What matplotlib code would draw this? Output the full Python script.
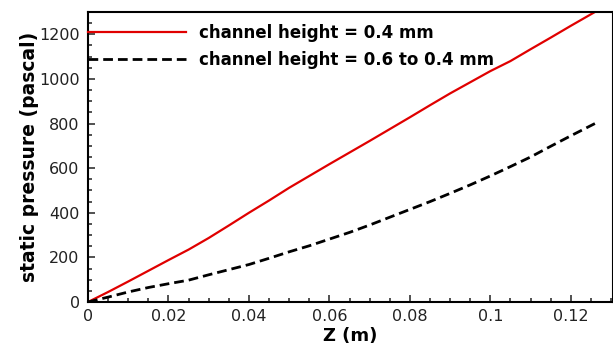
import matplotlib
matplotlib.use("Agg")
import matplotlib.pyplot as plt
from matplotlib.ticker import MultipleLocator

plt.rcParams['font.family'] = ['DejaVu Sans']

# z position (m) and static pressure (Pa)
z = [0.0, 0.005, 0.01, 0.015, 0.02, 0.025, 0.03, 0.035, 0.04, 0.045, 0.05,
     0.055, 0.06, 0.065, 0.07, 0.075, 0.08, 0.085, 0.09, 0.095, 0.1,
     0.105, 0.11, 0.115, 0.12, 0.126]
p_const = [0, 45, 92, 140, 188, 235, 287, 343, 400, 455, 512,
           565, 618, 670, 722, 775, 828, 882, 935, 985, 1035,
           1080, 1133, 1185, 1238, 1300]
p_taper = [0, 22, 45, 65, 82, 98, 122, 145, 168, 196, 225,
           252, 282, 312, 345, 380, 415, 450, 487, 525, 565,
           607, 650, 698, 745, 800]

labels = ["channel height = 0.4 mm", "channel height = 0.6 to 0.4 mm"]
xticks = [0, 0.02, 0.04, 0.06, 0.08, 0.1, 0.12]
xticklabels = ["0", "0.02", "0.04", "0.06", "0.08", "0.1", "0.12"]

fig = plt.figure(figsize=(6.13, 3.45), dpi=100)
ax = fig.add_axes([0.1436, 0.1246, 0.8564, 0.8406])

ax.plot(z, p_const, color="#e00000", lw=1.6, label=labels[0])
ax.plot(z, p_taper, color="black", lw=2, ls=(0, (3.5, 1.8)), label=labels[1])

ax.set_xlim(0, 0.1305)
ax.set_ylim(0, 1300)
ax.set_xticks(xticks)
ax.set_xticklabels(xticklabels)
ax.xaxis.set_minor_locator(MultipleLocator(0.005))
ax.yaxis.set_major_locator(MultipleLocator(200))
ax.yaxis.set_minor_locator(MultipleLocator(50))
ax.tick_params(which="both", direction="in", width=1.2, labelsize=11.5,
               color="#333333", labelcolor="#222222")
ax.tick_params(axis="y", pad=6)
ax.tick_params(axis="x", pad=5)
ax.tick_params(which="major", length=5)
ax.tick_params(which="minor", length=3)
for s in ax.spines.values():
    s.set_linewidth(1.5)

ax.set_xlabel("Z (m)", fontsize=13, fontweight="bold", labelpad=2)
ax.set_ylabel("static pressure (pascal)", fontsize=13.5, fontweight="bold", labelpad=0)

ax.legend(loc="upper left", bbox_to_anchor=(0, 0.958), frameon=False,
          handlelength=5.9, handletextpad=0.75, labelspacing=0.5,
          prop={"weight": "bold", "size": 12}, borderaxespad=0, borderpad=0)

fig.savefig("out.png", dpi=100)
